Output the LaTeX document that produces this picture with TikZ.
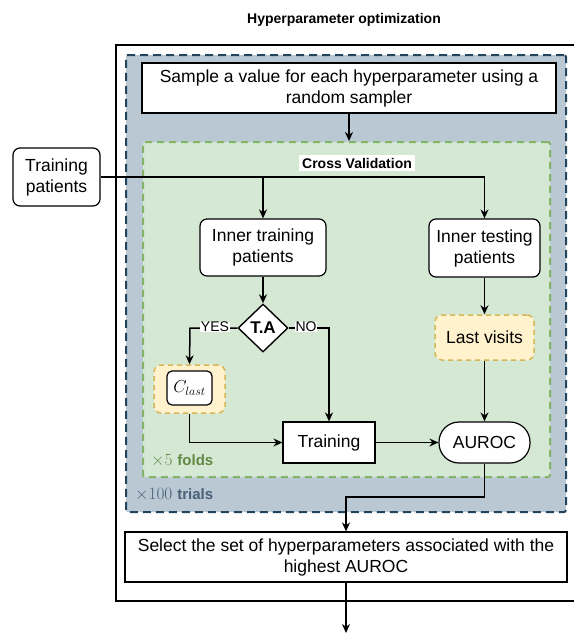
\documentclass[tikz,border=0pt]{standalone}
\usepackage{fontspec}
\setmainfont{Liberation Sans}
\usetikzlibrary{shapes.geometric,arrows.meta}
\definecolor{trialfill}{HTML}{BAC8D3}
\definecolor{trialdraw}{HTML}{23445D}
\definecolor{cvfill}{HTML}{D5E8D4}
\definecolor{cvdraw}{HTML}{82B366}
\definecolor{yfill}{HTML}{FFF2CC}
\definecolor{ydraw}{HTML}{D6B656}
\definecolor{foldtxt}{HTML}{5F8A45}
\definecolor{trialtxt}{HTML}{4A6078}
\tikzset{
  box/.style={draw=black, line width=1.2pt, fill=white, align=center, inner sep=2pt},
  rbox/.style={box, rounded corners=7pt},
  trialsbox/.style={draw=trialdraw, fill=trialfill, line width=2pt, dash pattern=on 8pt off 5pt, rounded corners=2pt},
  cvbox/.style={draw=cvdraw, fill=cvfill, line width=2pt, dash pattern=on 7pt off 5pt, rounded corners=2pt},
  ybox/.style={draw=ydraw, fill=yfill, line width=1.5pt, dash pattern=on 5pt off 4pt, rounded corners=7pt, align=center},
  conn/.style={line width=1.5pt, draw=black},
  arr/.style={conn, -{Stealth[length=9pt,width=8pt]}},
  lbl/.style={fill=white, inner sep=0.5pt, font=\fontsize{14}{16}\selectfont},
}
\begin{document}
\begin{tikzpicture}[x=1pt,y=-1pt, font=\fontsize{17.5}{21}\selectfont]
\useasboundingbox (0,0) rectangle (574,635);
% title
\node[font=\bfseries\fontsize{14}{17}\selectfont] (title) at (344,20) {Hyperparameter optimization};
% outer frame (runs off the right edge)
\draw[line width=2.6pt] (574,45) -- (116,45) -- (116,601) -- (574,601);
% containers
\node[trialsbox, minimum width=440, minimum height=457] (trials) at (346,283.5) {};
\node[cvbox, minimum width=407, minimum height=335] (cv) at (346.5,309.5) {};
\node[fill=white, inner sep=3pt, font=\bfseries\fontsize{14}{17}\selectfont] (cvl) at (357,163) {Cross Validation};
% nodes
\node[box, minimum width=414, minimum height=50] (sample) at (349,88) {Sample a value for each hyperparameter using a\\random sampler};
\node[rbox, minimum width=87, minimum height=58] (tp) at (56.5,177) {Training\\patients};
\node[rbox, minimum width=126, minimum height=57] (intrain) at (263,247.5) {Inner training\\patients};
\node[rbox, minimum width=111, minimum height=58] (intest) at (484.5,248) {Inner testing\\patients};
\node[diamond, draw=black, line width=1.4pt, fill=white, inner sep=0pt, minimum width=50, minimum height=48, font=\bfseries\fontsize{17}{20}\selectfont] (ta) at (263,328) {T.A};
\node[ybox, minimum width=99, minimum height=45] (last) at (484.5,337.5) {Last visits};
\node[ybox, minimum width=71, minimum height=48] (clast) at (189.5,389) {};
\node[box, rounded corners=5pt, minimum width=45, minimum height=34, inner sep=0pt] (clin) at (189.5,388) {$C_{last}$};
\node[box, minimum width=92, minimum height=41] (train) at (329,442.5) {Training};
\node[box, rounded corners=20pt, minimum width=91, minimum height=41] (auroc) at (484.5,442.5) {AUROC};
\node[box, minimum width=442, minimum height=50] (select) at (346,557) {Select the set of hyperparameters associated with the\\highest AUROC};
% labels
\node[anchor=west, text=foldtxt, inner sep=0pt] (folds) at (151,461) {$\times5$ \textbf{\fontsize{15}{18}\selectfont folds}};
\node[anchor=west, text=trialtxt, inner sep=0pt] (trl) at (135,495) {$\times100$ \textbf{\fontsize{15}{18}\selectfont trials}};
% coordinates
\coordinate (j1) at (263,177);
\coordinate (j2) at (484.5,177);
\coordinate (ya) at (190,328);
\coordinate (na) at (329,328);
\coordinate (ca) at (189.5,442.5);
\coordinate (ab) at (484.5,497);
\coordinate (sb) at (346,497);
\coordinate (endpt) at (346,633);
% connectors
\draw[arr] (sample.south) -- (sample.south |- cv.north);
\draw[arr] (tp.east) -- (j2) -- (intest.north);
\draw[arr] (j1) -- (intrain.north);
\draw[arr] (intrain.south) -- (ta.north);
\draw[arr] (ta.west) -- (ya) -- (clast.north);
\draw[arr] (ta.east) -- (na) -- (train.north);
\draw[arr] (clast.south) -- (ca) -- (train.west);
\draw[arr] (train.east) -- (auroc.west);
\draw[arr] (intest.south) -- (last.north);
\draw[arr] (last.south) -- (auroc.north);
\draw[arr] (auroc.south) -- (ab) -- (sb) -- (select.north);
\draw[arr] (select.south) -- (endpt);
\node[lbl] (yes) at (215,327) {YES};
\node[lbl] (no) at (306,327) {NO};
\end{tikzpicture}
\end{document}
